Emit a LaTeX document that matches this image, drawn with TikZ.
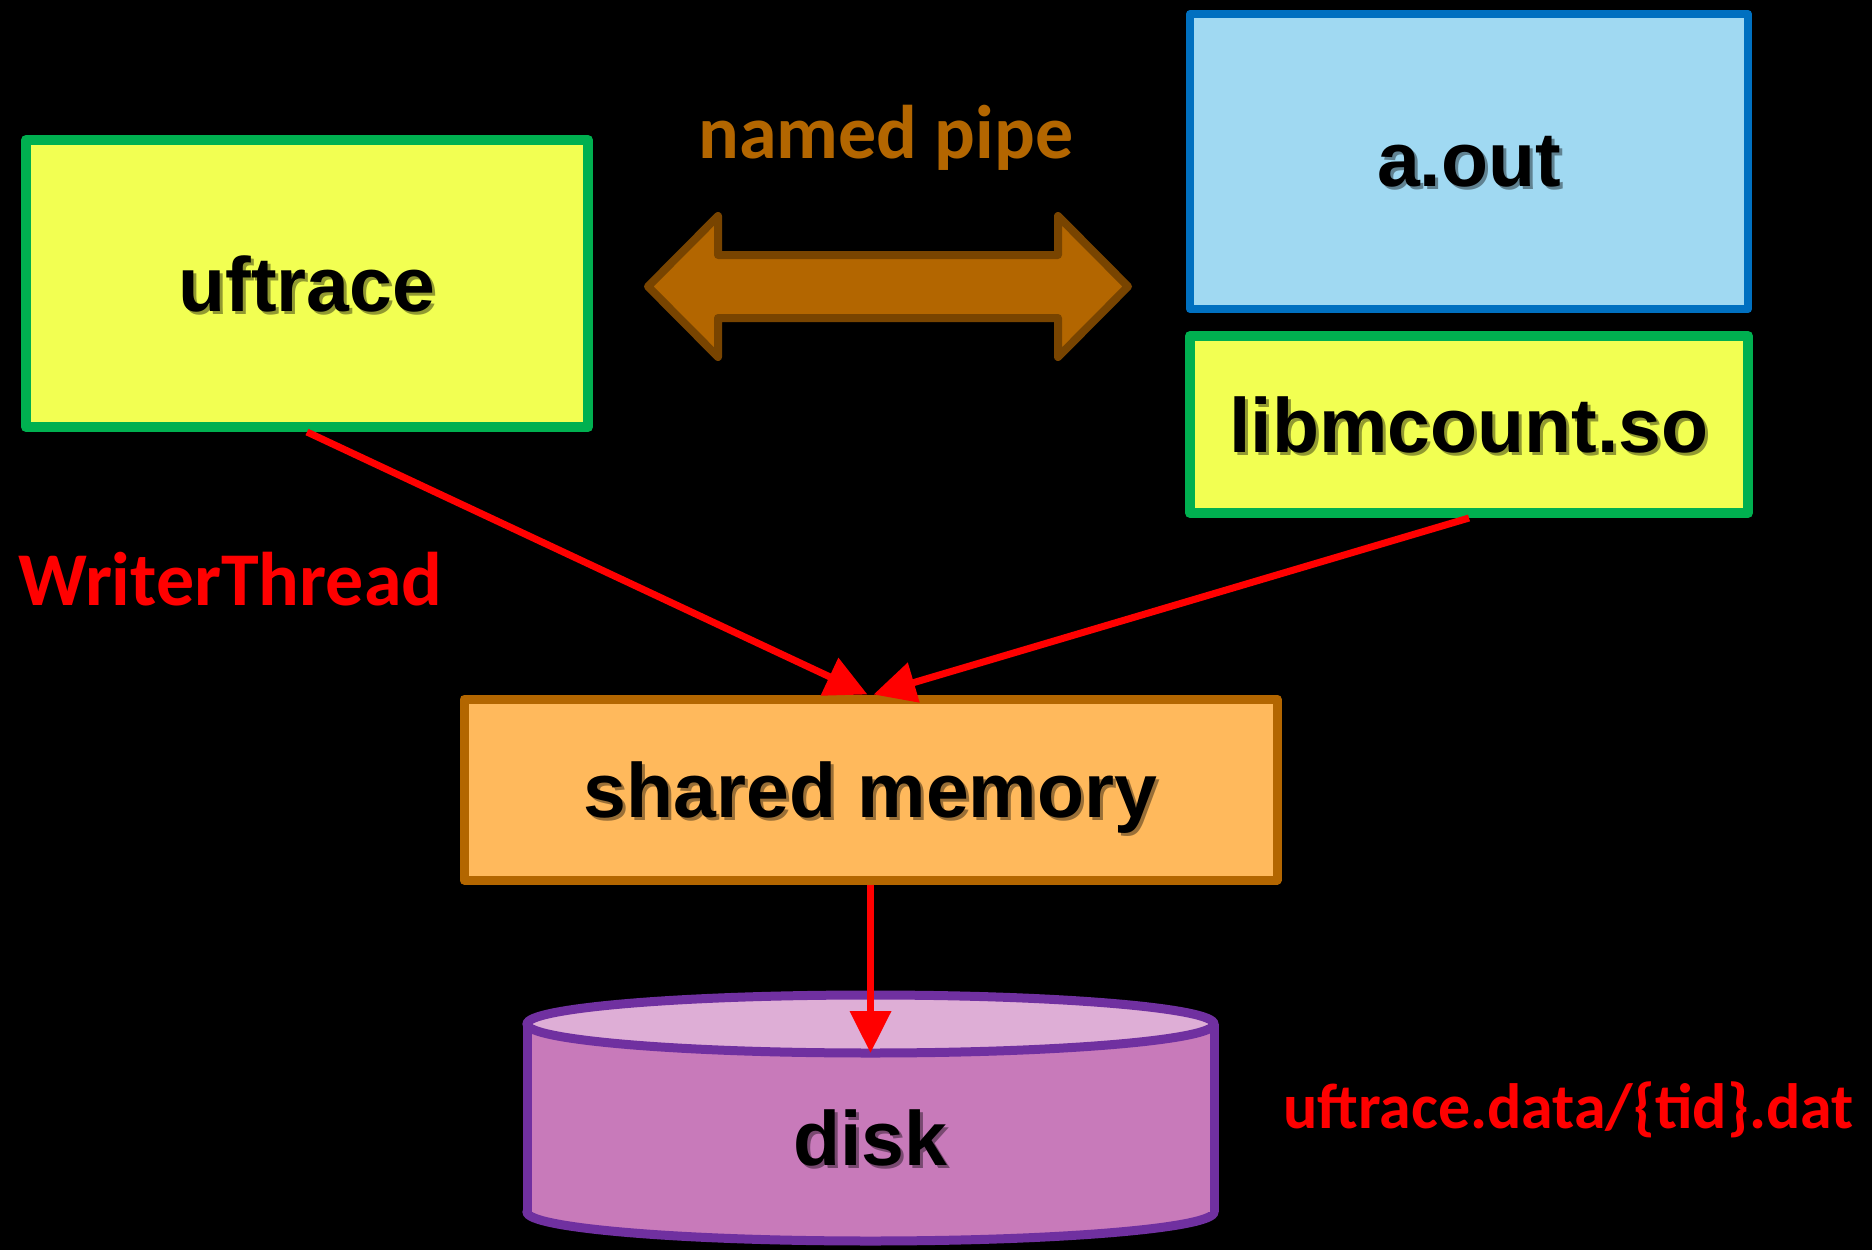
\documentclass[tikz,border=0pt]{standalone}
\usepackage{fontspec}
\setmainfont{Liberation Sans}
\newfontfamily\calfont{Carlito}
\usetikzlibrary{arrows.meta}
\definecolor{ylw}{RGB}{242,255,82}
\definecolor{grn}{RGB}{0,176,80}
\definecolor{blu}{RGB}{0,112,192}
\definecolor{lblu}{RGB}{160,217,242}
\definecolor{org}{RGB}{255,185,92}
\definecolor{brn}{RGB}{179,102,0}
\definecolor{dbrn}{RGB}{120,68,0}
\definecolor{pnk}{RGB}{200,122,186}
\definecolor{lpnk}{RGB}{222,174,214}
\definecolor{prp}{RGB}{112,48,160}
\newcommand{\shd}[2]{\leavevmode\rlap{\kern3pt\raisebox{-3pt}{\textcolor{#1}{#2}}}#2}
\begin{document}
\begin{tikzpicture}[x=1pt,y=-1pt,
  boxst/.style={draw, line join=round, inner sep=0pt, text depth=0pt,
    font=\fontsize{77}{80}\selectfont\bfseries},
  lbl/.style={font=\calfont\fontsize{76}{80}\selectfont\bfseries, inner sep=0pt},
  conn/.style={red, line width=7pt, -{Triangle[length=42pt,width=40pt]}}]
\fill[black] (0,0) rectangle (1872,1250);
\useasboundingbox (0,0) rectangle (1872,1250);

% boxes
\node[boxst, line width=10pt, draw=grn, fill=ylw, minimum width=562pt, minimum height=287pt]
  (uf) at (307,283.5) {\shd{ylw!60!black}{uftrace}};
\node[boxst, line width=8pt, draw=blu, fill=lblu, minimum width=558pt, minimum height=295pt]
  (aout) at (1469,161.5) {\shd{lblu!60!black}{a.out}};
\node[boxst, line width=10pt, draw=grn, fill=ylw, minimum width=558pt, minimum height=177pt]
  (lib) at (1469,424.5) {\shd{ylw!60!black}{libmcount.so}};
\node[boxst, line width=9pt, draw=brn, fill=org, minimum width=813pt, minimum height=181pt]
  (sm) at (870.5,789.5) {\shd{org!60!black}{shared memory}};

% disk cylinder
\fill[pnk] (527,1024) rectangle (1214,1211);
\draw[prp, line width=9pt, fill=pnk] (870.5,1212) ellipse [x radius=343.5pt, y radius=29pt];
\fill[pnk] (527,1024) rectangle (1214,1212);
\draw[prp, line width=9pt] (527,1024) -- (527,1212) (1214,1024) -- (1214,1212);
\draw[prp, line width=9pt, fill=lpnk] (870.5,1024) ellipse [x radius=343.5pt, y radius=29pt];
\node[boxst, draw=none] (disk) at (870.5,1138) {\shd{pnk!60!black}{disk}};
\coordinate (disktop) at (870.5,1053);

% named pipe double arrow
\draw[dbrn, fill=brn, line width=8pt, line join=round]
  (648,286.5) -- (718,216) -- (718,255) -- (1058,255) -- (1058,216) -- (1128,286.5)
  -- (1058,357) -- (1058,318) -- (718,318) -- (718,357) -- cycle;

% labels
\node[lbl, text=brn, anchor=base] (np) at (886,158) {named pipe};
\node[lbl, text=red, anchor=base west] (wt) at (18,605) {WriterThread};
\node[lbl, text=red, anchor=base west, font=\calfont\fontsize{64}{66}\selectfont\bfseries]
  (ud) at (1283,1128) {uftrace.data/\{tid\}.dat};

% connectors
\draw[conn] (uf.south) -- ([xshift=-3pt]sm.north);
\draw[conn] (lib.south) -- ([xshift=3pt]sm.north);
\draw[conn] (sm.south) -- (disktop);
\end{tikzpicture}
\end{document}
